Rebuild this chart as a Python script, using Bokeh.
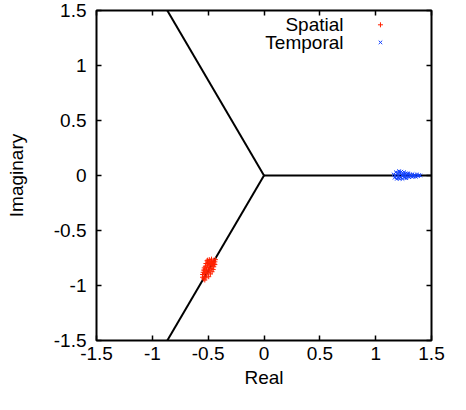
from bokeh.plotting import figure
from bokeh.models import Range1d, FixedTicker, LinearAxis, Label, CustomLabelingPolicy
from bokeh.embed import file_html
from bokeh.resources import INLINE

# ---- data ----
spatial_re = [-0.47, -0.49, -0.45, -0.51, -0.44, -0.48, -0.50, -0.46, -0.52, -0.445,
              -0.485, -0.505, -0.465, -0.525, -0.45, -0.495, -0.535, -0.475, -0.515, -0.455,
              -0.54, -0.49, -0.52, -0.465, -0.545, -0.50, -0.53, -0.48, -0.55, -0.515,
              -0.535, -0.495, -0.55, -0.52, -0.54, -0.53, -0.51, -0.47, -0.49, -0.51,
              -0.46, -0.53, -0.505, -0.455, -0.435, -0.44]
spatial_im = [-0.76, -0.765, -0.77, -0.775, -0.785, -0.78, -0.79, -0.795, -0.80, -0.805,
              -0.81, -0.815, -0.82, -0.825, -0.83, -0.835, -0.84, -0.845, -0.85, -0.855,
              -0.86, -0.865, -0.87, -0.875, -0.88, -0.885, -0.89, -0.895, -0.90, -0.905,
              -0.915, -0.92, -0.925, -0.93, -0.94, -0.95, -0.80, -0.80, -0.85, -0.88,
              -0.81, -0.86, -0.77, -0.79, -0.765, -0.81]

temporal_re = [1.16, 1.17, 1.18, 1.19, 1.20, 1.21, 1.22, 1.23, 1.24, 1.25,
               1.26, 1.27, 1.28, 1.29, 1.30, 1.31, 1.32, 1.33, 1.34, 1.35,
               1.36, 1.37, 1.38, 1.39, 1.40, 1.175, 1.195, 1.215, 1.235, 1.255,
               1.275, 1.225, 1.245, 1.265, 1.285, 1.305, 1.325, 1.345, 1.20, 1.21]
temporal_im = [0.01, -0.02, 0.03, -0.03, 0.0, 0.025, -0.015, 0.035, -0.03, 0.01,
               -0.02, 0.02, -0.01, 0.015, -0.015, 0.01, -0.005, 0.012, -0.01, 0.005,
               -0.012, 0.008, -0.005, 0.004, 0.0, 0.0, 0.02, -0.03, 0.005, 0.03,
               -0.025, 0.015, -0.005, 0.0, 0.02, 0.005, -0.012, 0.0, -0.02, 0.04]

# three rays from the origin
ray_x0 = [0.0, 0.0, 0.0]
ray_y0 = [0.0, 0.0, 0.0]
ray_x1 = [1.5, -0.866, -0.866]
ray_y1 = [0.0, 1.5, -1.5]

tick_vals = [-1.5, -1.0, -0.5, 0.0, 0.5, 1.0, 1.5]
tick_labels = ["-1.5", "-1", "-0.5", "0", "0.5", "1", "1.5"]

series_names = ["Spatial", "Temporal"]
series_colors = ["#ff2200", "#1040ff"]

FONT = "Liberation Sans"
FS = "19px"

p = figure(width=450, height=394, output_backend="svg", toolbar_location=None,
           x_range=Range1d(-1.5, 1.5), y_range=Range1d(-1.5, 1.5),
           x_axis_label="Real", y_axis_label="Imaginary")
p.min_border_left = 96
p.min_border_right = 19
p.min_border_top = 10
p.min_border_bottom = 54
p.xgrid.visible = False
p.ygrid.visible = False
p.outline_line_color = "black"
p.outline_line_width = 2
p.background_fill_color = "white"
p.border_fill_color = "white"


def key(v):
    return int(v) if float(v).is_integer() else v


overrides = {key(v): l for v, l in zip(tick_vals, tick_labels)}

for ax in (p.xaxis[0], p.yaxis[0]):
    ax.ticker = FixedTicker(ticks=tick_vals)
    ax.major_label_overrides = overrides
    ax.minor_tick_line_color = None
    ax.major_tick_in = 5
    ax.major_tick_out = 0
    ax.major_tick_line_width = 1.5
    ax.axis_line_color = None
    ax.major_label_text_font = FONT
    ax.major_label_text_font_size = FS
    ax.major_label_text_color = "black"
    ax.axis_label_text_font = FONT
    ax.axis_label_text_font_size = FS
    ax.axis_label_text_font_style = "normal"
    ax.axis_label_text_color = "black"

p.xaxis[0].major_label_standoff = 6
p.xaxis[0].axis_label_standoff = 4
p.yaxis[0].major_label_standoff = 10
p.yaxis[0].axis_label_standoff = 24

no_labels = CustomLabelingPolicy(code="""
    const all = [...indices];
    for (const i of all) indices.unset(i);
    return indices;
""")

for side in ("above", "right"):
    ax = LinearAxis(ticker=FixedTicker(ticks=tick_vals))
    ax.major_label_policy = no_labels
    ax.major_label_text_font_size = "0px"
    ax.major_label_standoff = 0
    ax.minor_tick_line_color = None
    ax.major_tick_in = 5
    ax.major_tick_out = 0
    ax.major_tick_line_width = 1.5
    ax.axis_line_color = None
    p.add_layout(ax, side)

p.segment(x0=ray_x0, y0=ray_y0, x1=ray_x1, y1=ray_y1, line_color="black", line_width=2)

p.scatter(spatial_re, spatial_im, marker="cross", size=5, line_color=series_colors[0], line_width=1)
p.scatter(temporal_re, temporal_im, marker="x", size=5, line_color=series_colors[1], line_width=1)

# gnuplot-style key: text right-aligned, sample marker to the right
key_text_x = 0.712
key_mark_x = 1.043
key_y = [1.37, 1.21]
p.add_layout(Label(x=key_text_x, y=key_y[0], text=series_names[0], text_align="right",
                   text_baseline="middle", text_font=FONT, text_font_size=FS, text_color="black"))
p.add_layout(Label(x=key_text_x, y=key_y[1], text=series_names[1], text_align="right",
                   text_baseline="middle", text_font=FONT, text_font_size=FS, text_color="black"))
p.scatter([key_mark_x], [key_y[0]], marker="cross", size=5, line_color=series_colors[0], line_width=1)
p.scatter([key_mark_x], [key_y[1]], marker="x", size=5, line_color=series_colors[1], line_width=1)

open("out.html", "w").write(file_html(p, INLINE))
